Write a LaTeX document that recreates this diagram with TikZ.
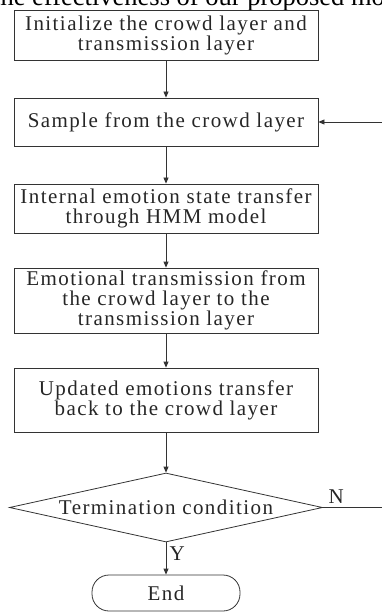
\documentclass[tikz,border=0pt]{standalone}
\usepackage{fontspec}
\setmainfont{Liberation Serif}
\newfontfamily\boxfont[LetterSpace=6.8]{Liberation Serif}
\usetikzlibrary{arrows.meta, shapes.geometric}
\colorlet{myline}{black!80}
\colorlet{mytext}{black!85}

\tikzset{
    boxtext/.style={text=mytext, font=\boxfont\fontsize{21}{20}\selectfont},
    stepbox/.style={draw=myline, line width=0.8pt, boxtext, align=center,
        minimum width=304pt, inner sep=0pt},
    flow/.style={draw=myline, line width=0.8pt, -{Triangle[length=6pt, width=5pt]}},
}

\begin{document}
\begin{tikzpicture}[x=1pt, y=-1pt]

    \useasboundingbox (0, 0) rectangle (382, 612);

    % page text cut off at the top
    \node[anchor=base west, inner sep=0pt, text=black, font=\fontsize{26.5}{30}\selectfont]
        (pagetext) at (-7, 6) {the effectiveness of our proposed model};

    \node[stepbox, minimum height=50pt] (init) at (166, 35)
        {Initialize the crowd layer and\\transmission layer};
    \node[stepbox, minimum height=48pt] (sample) at (166, 122)
        {Sample from the crowd layer};
    \node[stepbox, minimum height=49pt] (hmm) at (166, 208.5)
        {Internal emotion state transfer\\through HMM model};
    \node[stepbox, minimum height=65pt] (emit) at (166, 300.5)
        {Emotional transmission from\\the crowd layer to the\\transmission layer};
    \node[stepbox, minimum height=64pt] (back) at (166, 400)
        {Updated emotions transfer\\back to the crowd layer};
    \node[stepbox, shape=diamond, aspect=4.5, minimum width=313pt, minimum height=69pt]
        (cond) at (166, 507.5) {Termination condition};
    \node[stepbox, minimum width=148pt, minimum height=36pt, rounded corners=17pt]
        (finish) at (166, 593) {End};

    \coordinate (loopin) at (383, 122);
    \coordinate (loopout) at (383, 507.5);

    \draw[flow] (init) -- (sample);
    \draw[flow] (sample) -- (hmm);
    \draw[flow] (hmm) -- (emit);
    \draw[flow] (emit) -- (back);
    \draw[flow] (back) -- (cond);
    \draw[flow] (cond) -- (finish) node[pos=0.35, right, boxtext] {Y};
    \draw[flow] (loopin) -- (sample);
    \draw[draw=myline, line width=0.8pt] (cond.east) -- (loopout)
        node[pos=0.22, above, boxtext] {N};

\end{tikzpicture}
\end{document}
